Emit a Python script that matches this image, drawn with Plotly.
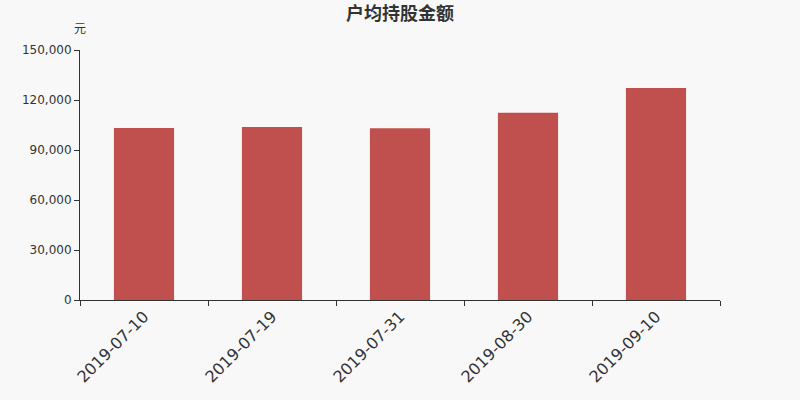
import plotly.graph_objs as go

# data
dates = ['2019-07-10', '2019-07-19', '2019-07-31', '2019-08-30', '2019-09-10']
amount = [103200, 103800, 103000, 112400, 127200]

bars = go.Bar(x=dates, y=amount, marker=dict(color='#c0504d', line=dict(width=0)))

layout = go.Layout(
    width=800, height=400,
    paper_bgcolor='#f8f8f8', plot_bgcolor='#f8f8f8',
    margin=dict(l=80, r=80, t=50, b=100),
    font=dict(family='DejaVu Sans', color='#333'),
    title=dict(text='<b>户均持股金额</b>', x=0.5, xanchor='center', y=0.965, yanchor='middle',
               font=dict(size=18, family='Noto Sans CJK SC', color='#333')),
    bargap=0.53,
    showlegend=False,
    xaxis=dict(type='category', tickson='boundaries', ticks='outside', ticklen=5,
               tickcolor='#333', showline=True, linecolor='#333', linewidth=1,
               tickangle=-45, tickfont=dict(size=16, color='#333'), showgrid=False),
    yaxis=dict(range=[0, 150000], tickvals=[0, 30000, 60000, 90000, 120000, 150000],
               tickformat=',d', ticks='outside', ticklen=5, tickcolor='#333',
               showline=True, linecolor='#333', linewidth=1, showgrid=False,
               zeroline=False, tickfont=dict(size=12, color='#333')),
    annotations=[dict(text='元', xref='paper', yref='paper', x=0, y=1.088,
                      xanchor='center', yanchor='middle', showarrow=False,
                      font=dict(size=12, family='Noto Sans CJK SC', color='#333'))],
)

fig = go.Figure(data=[bars], layout=layout)
# drop the page's default body margin so the chart fills the window
fig.write_html('out.html', config={'displayModeBar': False},
               post_script="document.body.style.margin='0';")
